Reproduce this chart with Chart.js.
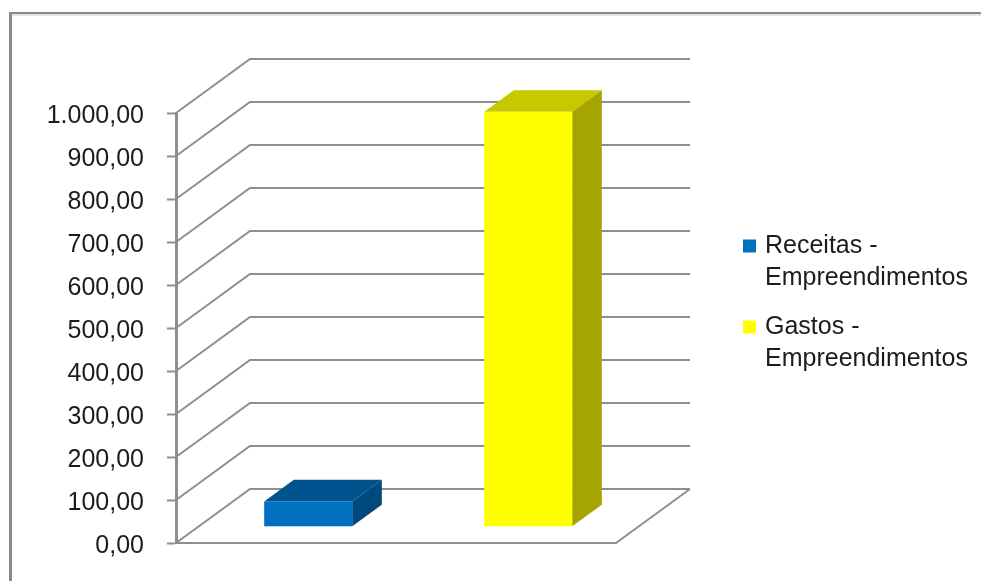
<!DOCTYPE html>
<html lang="pt-BR">
<head>
    <meta charset="UTF-8">
    <title>Receitas e Gastos - Empreendimentos</title>
    <script src="https://cdn.jsdelivr.net/npm/chart.js@4.4.0/dist/chart.umd.min.js"></script>
    <style>
        html, body { margin: 0; padding: 0; background: #fff; }
        canvas { display: block; }
    </style>
</head>
<body>
    <canvas id="empChart" width="981" height="581"></canvas>

    <script>
        // data
        const categories = [''];
        const seriesLabels = ['Receitas - Empreendimentos', 'Gastos - Empreendimentos'];
        const receitas = [59];
        const gastos = [965];
        const yTickValues = [0, 100, 200, 300, 400, 500, 600, 700, 800, 900, 1000];

        // look
        const frontColors = ['#0070c0', '#ffff00'];
        const topColors = ['#00538e', '#c8c800'];
        const sideColors = ['#00497d', '#a6a400'];
        const gridColor = '#8e8e8e';
        const textColor = '#1c1c1c';
        const fontFamily = "'Liberation Sans', Arial, sans-serif";

        // oblique depth of the floor / walls, and where the bars sit in it
        const DX = 74, DY = -54;
        const BAR_FRONT = 0.3, BAR_BACK = 0.7;

        // 1.000,00 style numbers
        function formatBR(v) {
            const [i, d] = v.toFixed(2).split('.');
            return i.replace(/\B(?=(\d{3})+(?!\d))/g, '.') + ',' + d;
        }

        function poly(ctx, pts, color) {
            ctx.beginPath();
            ctx.moveTo(pts[0][0], pts[0][1]);
            for (let k = 1; k < pts.length; k++) ctx.lineTo(pts[k][0], pts[k][1]);
            ctx.closePath();
            ctx.fillStyle = color;
            ctx.fill();
        }

        const fake3d = {
            id: 'fake3d',
            beforeDraw(chart) {
                // outer frame, top and left edges only
                const ctx = chart.ctx;
                ctx.save();
                ctx.fillStyle = '#898989';
                ctx.fillRect(9, 12, 981, 2);
                ctx.fillRect(9, 12, 3, 581);
                ctx.fillStyle = '#e6e6e6';
                ctx.fillRect(12, 14, 981, 2);
                ctx.restore();
            },
            beforeDatasetsDraw(chart) {
                const { ctx, chartArea: a, scales: { y } } = chart;
                ctx.save();

                // side wall diagonals + back wall lines
                ctx.strokeStyle = gridColor;
                ctx.lineWidth = 2;
                y.ticks.forEach(t => {
                    const py = y.getPixelForValue(t.value);
                    ctx.beginPath();
                    ctx.moveTo(a.left, py);
                    ctx.lineTo(a.left + DX, py + DY);
                    ctx.lineTo(a.right + DX, py + DY);
                    ctx.stroke();
                });
                ctx.beginPath();
                ctx.moveTo(a.right, a.bottom);
                ctx.lineTo(a.right + DX, a.bottom + DY);
                ctx.stroke();

                // boxes
                const fx = DX * BAR_FRONT, fy = DY * BAR_FRONT;
                const ddx = DX * (BAR_BACK - BAR_FRONT), ddy = DY * (BAR_BACK - BAR_FRONT);
                chart.data.datasets.forEach((ds, i) => {
                    chart.getDatasetMeta(i).data.forEach(bar => {
                        const p = bar.getProps(['x', 'y', 'base', 'width'], true);
                        const l = p.x - p.width / 2 + fx, r = p.x + p.width / 2 + fx;
                        const t = p.y + fy, b = p.base + fy;
                        poly(ctx, [[l, t], [r, t], [r + ddx, t + ddy], [l + ddx, t + ddy]], topColors[i]);
                        poly(ctx, [[r, t], [r + ddx, t + ddy], [r + ddx, b + ddy], [r, b]], sideColors[i]);
                        ctx.fillStyle = frontColors[i];
                        ctx.fillRect(l, t, r - l, b - t);
                    });
                });

                ctx.restore();
                return false;
            },
            afterDraw(chart) {
                // legend, label wrapped after the dash
                const ctx = chart.ctx;
                ctx.save();
                ctx.font = '25px ' + fontFamily;
                ctx.textAlign = 'left';
                ctx.textBaseline = 'middle';
                chart.data.datasets.forEach((ds, i) => {
                    const cy = 246 + i * 81;
                    const lines = ds.label.split(' - ');
                    ctx.fillStyle = frontColors[i];
                    ctx.fillRect(743, cy - 6.5, 13, 13);
                    ctx.fillStyle = textColor;
                    ctx.fillText(lines[0] + ' -', 765, cy);
                    ctx.fillText(lines[1], 765, cy + 32);
                });
                ctx.restore();
            }
        };

        new Chart(document.getElementById('empChart'), {
            type: 'bar',
            data: {
                labels: categories,
                datasets: [
                    { label: seriesLabels[0], data: receitas, backgroundColor: frontColors[0] },
                    { label: seriesLabels[1], data: gastos, backgroundColor: frontColors[1] }
                ]
            },
            options: {
                responsive: false,
                animation: false,
                events: [],
                categoryPercentage: 1.0,
                barPercentage: 0.4,
                layout: {
                    padding: { left: 0, top: 113, right: 365, bottom: 36 }
                },
                plugins: {
                    legend: { display: false },
                    tooltip: { enabled: false }
                },
                scales: {
                    x: {
                        grid: { display: false },
                        ticks: { display: false },
                        border: { display: true, color: gridColor, width: 2 },
                        afterFit: (s) => { s.height = 0; }
                    },
                    y: {
                        min: 0,
                        max: 1000,
                        afterBuildTicks: (s) => { s.ticks = yTickValues.map(v => ({ value: v })); },
                        afterFit: (s) => { s.width = 176; },
                        grid: {
                            display: true,
                            drawOnChartArea: false,
                            drawTicks: true,
                            tickLength: 9,
                            tickWidth: 2,
                            color: gridColor
                        },
                        border: { display: true, color: gridColor, width: 3 },
                        ticks: {
                            padding: 23,
                            labelOffset: 3,
                            color: textColor,
                            font: { family: fontFamily, size: 25 },
                            callback: (v) => formatBR(v)
                        }
                    }
                }
            },
            plugins: [fake3d]
        });
    </script>
</body>
</html>
